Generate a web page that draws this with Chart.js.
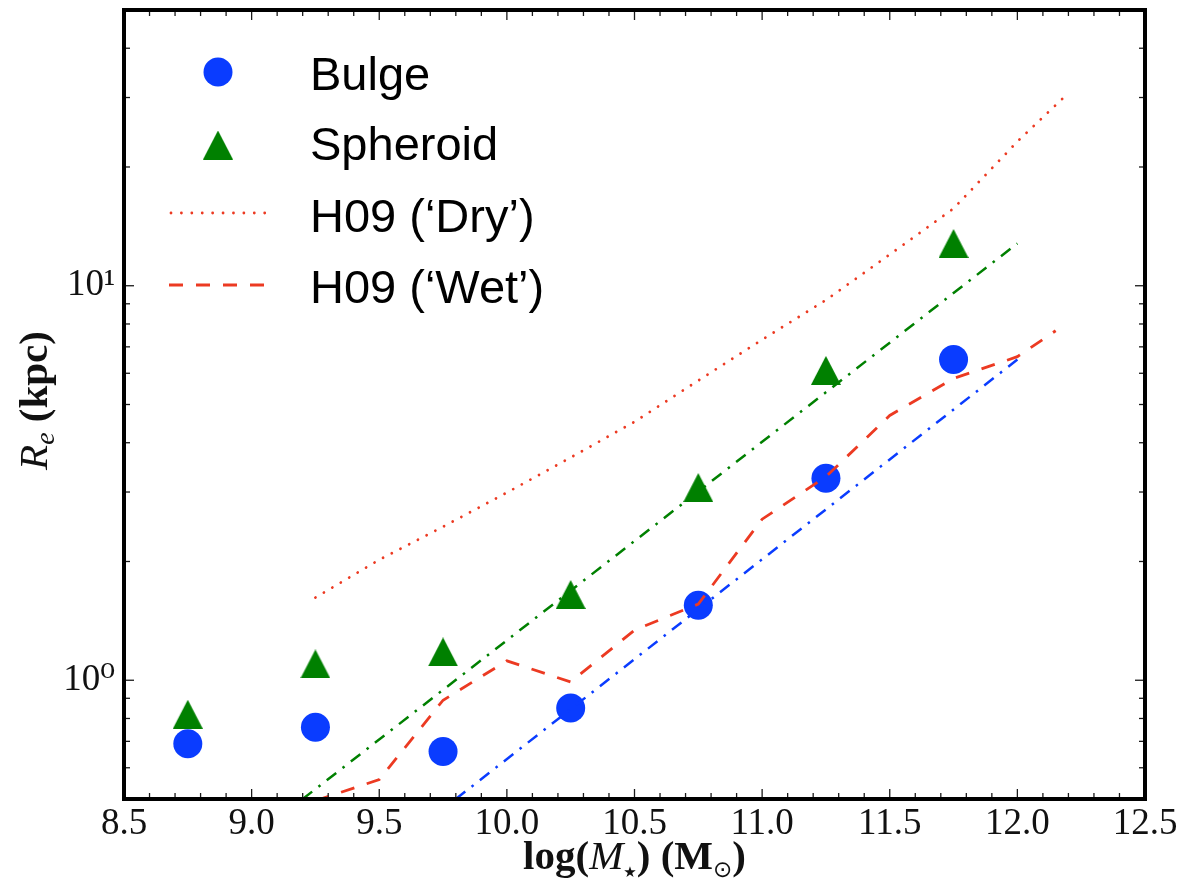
<!DOCTYPE html>
<html>
<head>
<meta charset="utf-8">
<script src="https://cdn.jsdelivr.net/npm/chart.js@4.4.1/dist/chart.umd.min.js"></script>
<style>
  html, body { margin: 0; padding: 0; background: #fff; }
  #wrap { width: 1182px; height: 884px; position: relative; }
</style>
</head>
<body>
<div id="wrap"><canvas id="chart"></canvas></div>
<script>
// binned points
const massBins = [8.75, 9.25, 9.75, 10.25, 10.75, 11.25, 11.75]
const bulgeRe = [0.69, 0.76, 0.66, 0.85, 1.55, 3.25, 6.5]
const spheroidRe = [0.82, 1.10, 1.18, 1.65, 3.08, 6.1, 12.8]

// H09 model curves
const dryMass = [9.25, 9.5, 9.75, 10.0, 10.25, 10.5, 10.75, 11.0, 11.25, 11.5, 11.75, 12.0, 12.2]
const dryRe = [1.62, 2.02, 2.45, 2.99, 3.67, 4.52, 5.75, 7.3, 9.2, 12.0, 15.7, 23.2, 30.8]
const wetMass = [9.25, 9.5, 9.75, 10.0, 10.25, 10.5, 10.75, 11.0, 11.25, 11.5, 11.75, 12.0, 12.15]
const wetRe = [0.495, 0.56, 0.89, 1.12, 0.99, 1.34, 1.56, 2.56, 3.28, 4.69, 5.82, 6.61, 7.69]

// fits
const bulgeFitMass = [9.8, 12.0]
const bulgeFitRe = [0.5, 6.5]
const spheroidFitMass = [9.2, 12.0]
const spheroidFitRe = [0.5, 12.8]

const xTickValues = [8.5, 9.0, 9.5, 10.0, 10.5, 11.0, 11.5, 12.0, 12.5]
const yTickValues = [1, 10]
const yTickLabels = ['10⁰', '10¹']
const yMinorTicks = [0.5, 0.6, 0.7, 0.8, 0.9, 2, 3, 4, 5, 6, 7, 8, 9, 20, 30, 40]
const legendLabels = ['Bulge', 'Spheroid', 'H09 (‘Dry’)', 'H09 (‘Wet’)']

const BLUE = '#0a3cff'
const GREEN = '#008000'
const RED = '#ec3a22'
const SERIF = '"Liberation Serif", "DejaVu Serif", serif'

const pts = (xs, ys) => xs.map((x, i) => ({ x: x, y: ys[i] }))

function triangleMarker(w, h, color) {
  const c = document.createElement('canvas')
  c.width = w
  c.height = h
  const g = c.getContext('2d')
  g.fillStyle = color
  g.beginPath()
  g.moveTo(w / 2, 0)
  g.lineTo(w, h)
  g.lineTo(0, h)
  g.closePath()
  g.fill()
  return c
}
const tri = triangleMarker(30, 29, GREEN)

function drawParts(ctx, parts, x, y, align) {
  // parts: [text, font, dy]
  let total = 0
  parts.forEach(p => { ctx.font = p[1]; total += ctx.measureText(p[0]).width })
  let cx = align === 'center' ? x - total / 2 : x
  parts.forEach(p => {
    ctx.font = p[1]
    ctx.fillText(p[0], cx, y + (p[2] || 0))
    cx += ctx.measureText(p[0]).width
  })
}

const decorations = {
  id: 'decorations',
  afterDraw(chart) {
    const { ctx, chartArea: a, scales: { x, y } } = chart
    ctx.save()

    // inward ticks, all four sides
    ctx.strokeStyle = '#1a1a1a'
    ctx.lineWidth = 1.3
    const line = (x1, y1, x2, y2) => { ctx.beginPath(); ctx.moveTo(x1, y1); ctx.lineTo(x2, y2); ctx.stroke() }
    for (let i = 0; i <= 40; i++) {
      const px = x.getPixelForValue(8.5 + i * 0.1)
      const len = i % 5 === 0 ? 10 : 6
      line(px, a.bottom, px, a.bottom - len)
      line(px, a.top, px, a.top + len)
    }
    yTickValues.forEach(v => {
      const py = y.getPixelForValue(v)
      line(a.left, py, a.left + 10, py)
      line(a.right, py, a.right - 10, py)
    })
    yMinorTicks.forEach(v => {
      const py = y.getPixelForValue(v)
      line(a.left, py, a.left + 6, py)
      line(a.right, py, a.right - 6, py)
    })

    // frame
    ctx.strokeStyle = '#000'
    ctx.lineWidth = 4
    ctx.strokeRect(a.left, a.top, a.right - a.left, a.bottom - a.top)

    // axis titles
    ctx.fillStyle = '#111'
    ctx.textBaseline = 'alphabetic'
    drawParts(ctx, [
      ['log(', 'bold 41px ' + SERIF],
      ['M', 'italic 41px ' + SERIF],
      ['★', '15px "DejaVu Sans"', 8],
      [') (M', 'bold 41px ' + SERIF],
      ['⊙', '23px "DejaVu Sans"', 8],
      [')', 'bold 41px ' + SERIF]
    ], (a.left + a.right) / 2, 869, 'center')

    ctx.save()
    ctx.translate(47, (a.top + a.bottom) / 2 - 4)
    ctx.rotate(-Math.PI / 2)
    drawParts(ctx, [
      ['R', 'italic 41px ' + SERIF],
      ['e', 'italic 28px ' + SERIF, 7],
      [' (kpc)', 'bold 41px ' + SERIF]
    ], 0, 0, 'center')
    ctx.restore()

    // legend
    const mx = a.left + 94
    const rows = [a.top + 62, a.top + 135, a.top + 203, a.top + 275]
    ctx.fillStyle = BLUE
    ctx.beginPath()
    ctx.arc(mx, rows[0], 14.5, 0, Math.PI * 2)
    ctx.fill()
    ctx.drawImage(tri, mx - tri.width / 2, rows[1] - tri.height / 2)
    ctx.strokeStyle = RED
    ctx.lineWidth = 2.8
    ctx.lineCap = 'round'
    ctx.setLineDash([0.01, 10.4])
    line(mx - 47, rows[2], mx + 47, rows[2])
    ctx.lineCap = 'butt'
    ctx.setLineDash([14, 13])
    line(mx - 49, rows[3], mx + 49, rows[3])
    ctx.setLineDash([])

    ctx.fillStyle = '#000'
    ctx.font = '47px "Liberation Sans", Arial, sans-serif'
    const baselines = [a.top + 80, a.top + 150, a.top + 222, a.top + 293]
    legendLabels.forEach((t, i) => ctx.fillText(t, a.left + 186, baselines[i]))

    ctx.restore()
  }
}

new Chart(document.getElementById('chart'), {
  type: 'scatter',
  data: {
    datasets: [
      {
        label: legendLabels[3],
        type: 'line',
        data: pts(wetMass, wetRe),
        borderColor: RED,
        borderWidth: 2.8,
        borderDash: [14, 13],
        pointRadius: 0,
        fill: false,
        tension: 0
      },
      {
        label: legendLabels[2],
        type: 'line',
        data: pts(dryMass, dryRe),
        borderColor: RED,
        borderWidth: 2.8,
        borderDash: [0.01, 9.8],
        borderCapStyle: 'round',
        pointRadius: 0,
        fill: false,
        tension: 0
      },
      {
        label: 'Bulge fit',
        type: 'line',
        data: pts(bulgeFitMass, bulgeFitRe),
        borderColor: BLUE,
        borderWidth: 2.5,
        borderDash: [12, 8, 2.5, 8],
        pointRadius: 0,
        fill: false
      },
      {
        label: 'Spheroid fit',
        type: 'line',
        data: pts(spheroidFitMass, spheroidFitRe),
        borderColor: GREEN,
        borderWidth: 2.5,
        borderDash: [12, 8, 2.5, 8],
        pointRadius: 0,
        fill: false
      },
      {
        label: legendLabels[1],
        data: pts(massBins, spheroidRe),
        pointStyle: tri,
        pointRadius: 14,
        pointBackgroundColor: GREEN,
        pointBorderWidth: 0
      },
      {
        label: legendLabels[0],
        data: pts(massBins, bulgeRe),
        pointStyle: 'circle',
        pointRadius: 14.5,
        pointBackgroundColor: BLUE,
        pointBorderWidth: 0
      }
    ]
  },
  options: {
    responsive: true,
    maintainAspectRatio: false,
    animation: false,
    events: [],
    layout: { autoPadding: false, padding: { top: 10, right: 37, left: 0, bottom: 0 } },
    plugins: {
      legend: { display: false },
      title: { display: false },
      tooltip: { enabled: false }
    },
    scales: {
      x: {
        type: 'linear',
        min: 8.5,
        max: 12.5,
        afterBuildTicks: s => { s.ticks = xTickValues.map(v => ({ value: v })) },
        afterFit: s => { s.height = 85; s.paddingLeft = 0; s.paddingRight = 0 },
        grid: { display: false, drawTicks: false },
        border: { display: false },
        ticks: {
          autoSkip: false,
          maxRotation: 0,
          padding: 3,
          color: '#111',
          font: { family: SERIF, size: 37 },
          callback: v => v.toFixed(1)
        }
      },
      y: {
        type: 'logarithmic',
        min: 0.5,
        max: 50,
        afterBuildTicks: s => { s.ticks = yTickValues.map(v => ({ value: v })) },
        afterFit: s => { s.width = 124; s.paddingTop = 0; s.paddingBottom = 0 },
        grid: { display: false, drawTicks: false },
        border: { display: false },
        ticks: {
          autoSkip: false,
          padding: 9,
          color: '#111',
          font: { family: SERIF, size: 37 },
          callback: (v, i) => yTickLabels[i]
        }
      }
    }
  },
  plugins: [decorations]
})
</script>
</body>
</html>
